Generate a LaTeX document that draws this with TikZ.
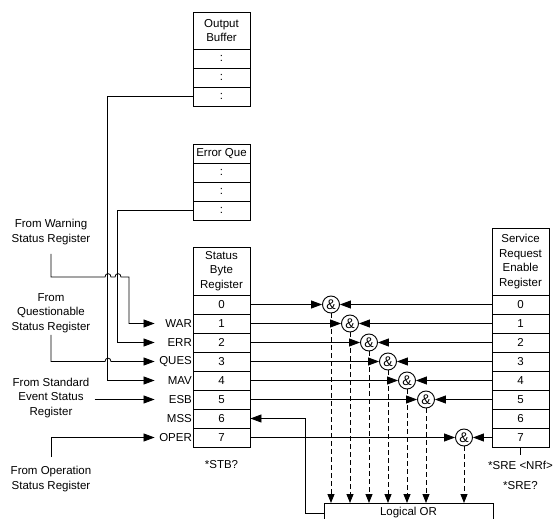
\documentclass[tikz,border=0pt]{standalone}
\usepackage{fontspec}
\setmainfont{Liberation Sans}
\usetikzlibrary{arrows.meta}
\begin{document}
\begin{tikzpicture}[x=1pt,y=-1pt,
  every node/.style={font=\fontsize{11.5}{14.5}\selectfont},
  cell/.style={draw, line width=0.9pt, minimum width=57pt, minimum height=19pt, inner sep=0pt},
  hdr/.style={cell, align=center},
  gate/.style={draw, circle, line width=0.9pt, minimum size=17pt, inner sep=0pt, font=\fontsize{14}{14}\selectfont},
  conn/.style={line width=0.8pt},
  arr/.style={conn, -{Triangle[length=11pt,width=8pt]}},
  darr/.style={conn, dash pattern=on 5pt off 3pt, -{Triangle[length=9pt,width=7pt]}},
  lbl/.style={inner sep=0.5pt, anchor=east},
  intext/.style={align=center, inner sep=2pt}
]
\useasboundingbox (0,0) rectangle (555,519);

% Output buffer
\node[hdr, minimum height=37pt] (obh) at (221.5,30.5) {Output\\Buffer};
\foreach \k in {0,1,2} \node[cell] (ob\k) at (221.5,58.5+19*\k) {:};

% Error queue
\node[hdr] (eqh) at (221.5,153.5) {Error Que};
\foreach \k in {0,1,2} \node[cell] (eq\k) at (221.5,172.5+19*\k) {:};

% Status byte register
\node[hdr, minimum height=48pt] (sbh) at (221.5,271) {Status\\Byte\\Register};
\foreach \k in {0,...,7} \node[cell] (sb\k) at (221.5,304.5+19*\k) {\k};

% Service request enable register
\node[hdr, minimum height=67pt] (sreh) at (520.5,261.5) {Service\\Request\\Enable\\Register};
\foreach \k in {0,...,7} \node[cell] (sre\k) at (520.5,304.5+19*\k) {\k};

% AND gates
\foreach \k in {0,1,2,3,4,5} \node[gate] (g\k) at (331+19*\k,304.5+19*\k) {\&};
\node[gate] (g7) at (464,437.5) {\&};

% Logical OR
\node[draw, line width=0.9pt, anchor=north, minimum width=169pt, text height=12pt, text depth=18pt, inner sep=0pt] (or) at (408.5,503) {Logical OR};

\foreach \k in {0,1,2,3,4,5,7} {
  \draw[arr] (sb\k.east) -- (g\k.west);
  \draw[arr] (sre\k.west) -- (g\k.east);
  \draw[darr] (g\k.south) -- (g\k.south |- or.north);
}

% MSS feedback
\draw[arr] ([yshift=-10pt]or.north west) -- ++(-18,0) |- (sb6.east);

% labels on the left of the status byte
\node[lbl] (lWAR) at (sb1.west) {WAR};
\node[lbl] (lERR) at (sb2.west) {ERR};
\node[lbl] (lQUES) at (sb3.west) {QUES};
\node[lbl] (lMAV) at (sb4.west) {MAV};
\node[lbl] (lESB) at (sb5.west) {ESB};
\node[lbl] (lMSS) at (sb6.west) {MSS};
\node[lbl] (lOPER) at (sb7.west) {OPER};

% input texts
\node[intext] (warn) at (51,232) {From Warning\\Status Register};
\node[intext] (ques) at (51,313) {From\\Questionable\\Status Register};
\node[intext] (std) at (51,398) {From Standard\\Event Status\\Register};
\node[intext] (oper) at (51,479) {From Operation\\Status Register};

% input connections
\draw[arr] ([yshift=-7pt]warn.south) -- (51,277) -- (105,277) .. controls (105,272.5) and (111,272.5) .. (111,277) -- (115,277) .. controls (115,272.5) and (121,272.5) .. (121,277) -- (129,277) |- ([xshift=-38pt]sb1.west);
\draw[arr] (eq2.west) -- ++(-75,0) |- ([xshift=-38pt]sb2.west);
\draw[arr] (ques.south) -- (51,361.5) -- (105,361.5) .. controls (105,357) and (111,357) .. (111,361.5) -- ([xshift=-38pt]sb3.west);
\draw[arr] (ob2.west) -- ++(-85,0) |- ([xshift=-38pt]sb4.west);
\draw[arr] ([xshift=3pt]std.east |- sb5.west) -- ([xshift=-38pt]sb5.west);
\draw[arr] ([yshift=7pt]oper.north) |- ([xshift=-38pt]sb7.west);

% bottom labels
\node (stb) at (221.5,465) {*STB?};
\node (sren) at (520.5,465) {*SRE <NRf>};
\node (sreq) at (520.5,486) {*SRE?};
\draw[conn] (sre7.south) -- ++(0,8);
\end{tikzpicture}
\end{document}
